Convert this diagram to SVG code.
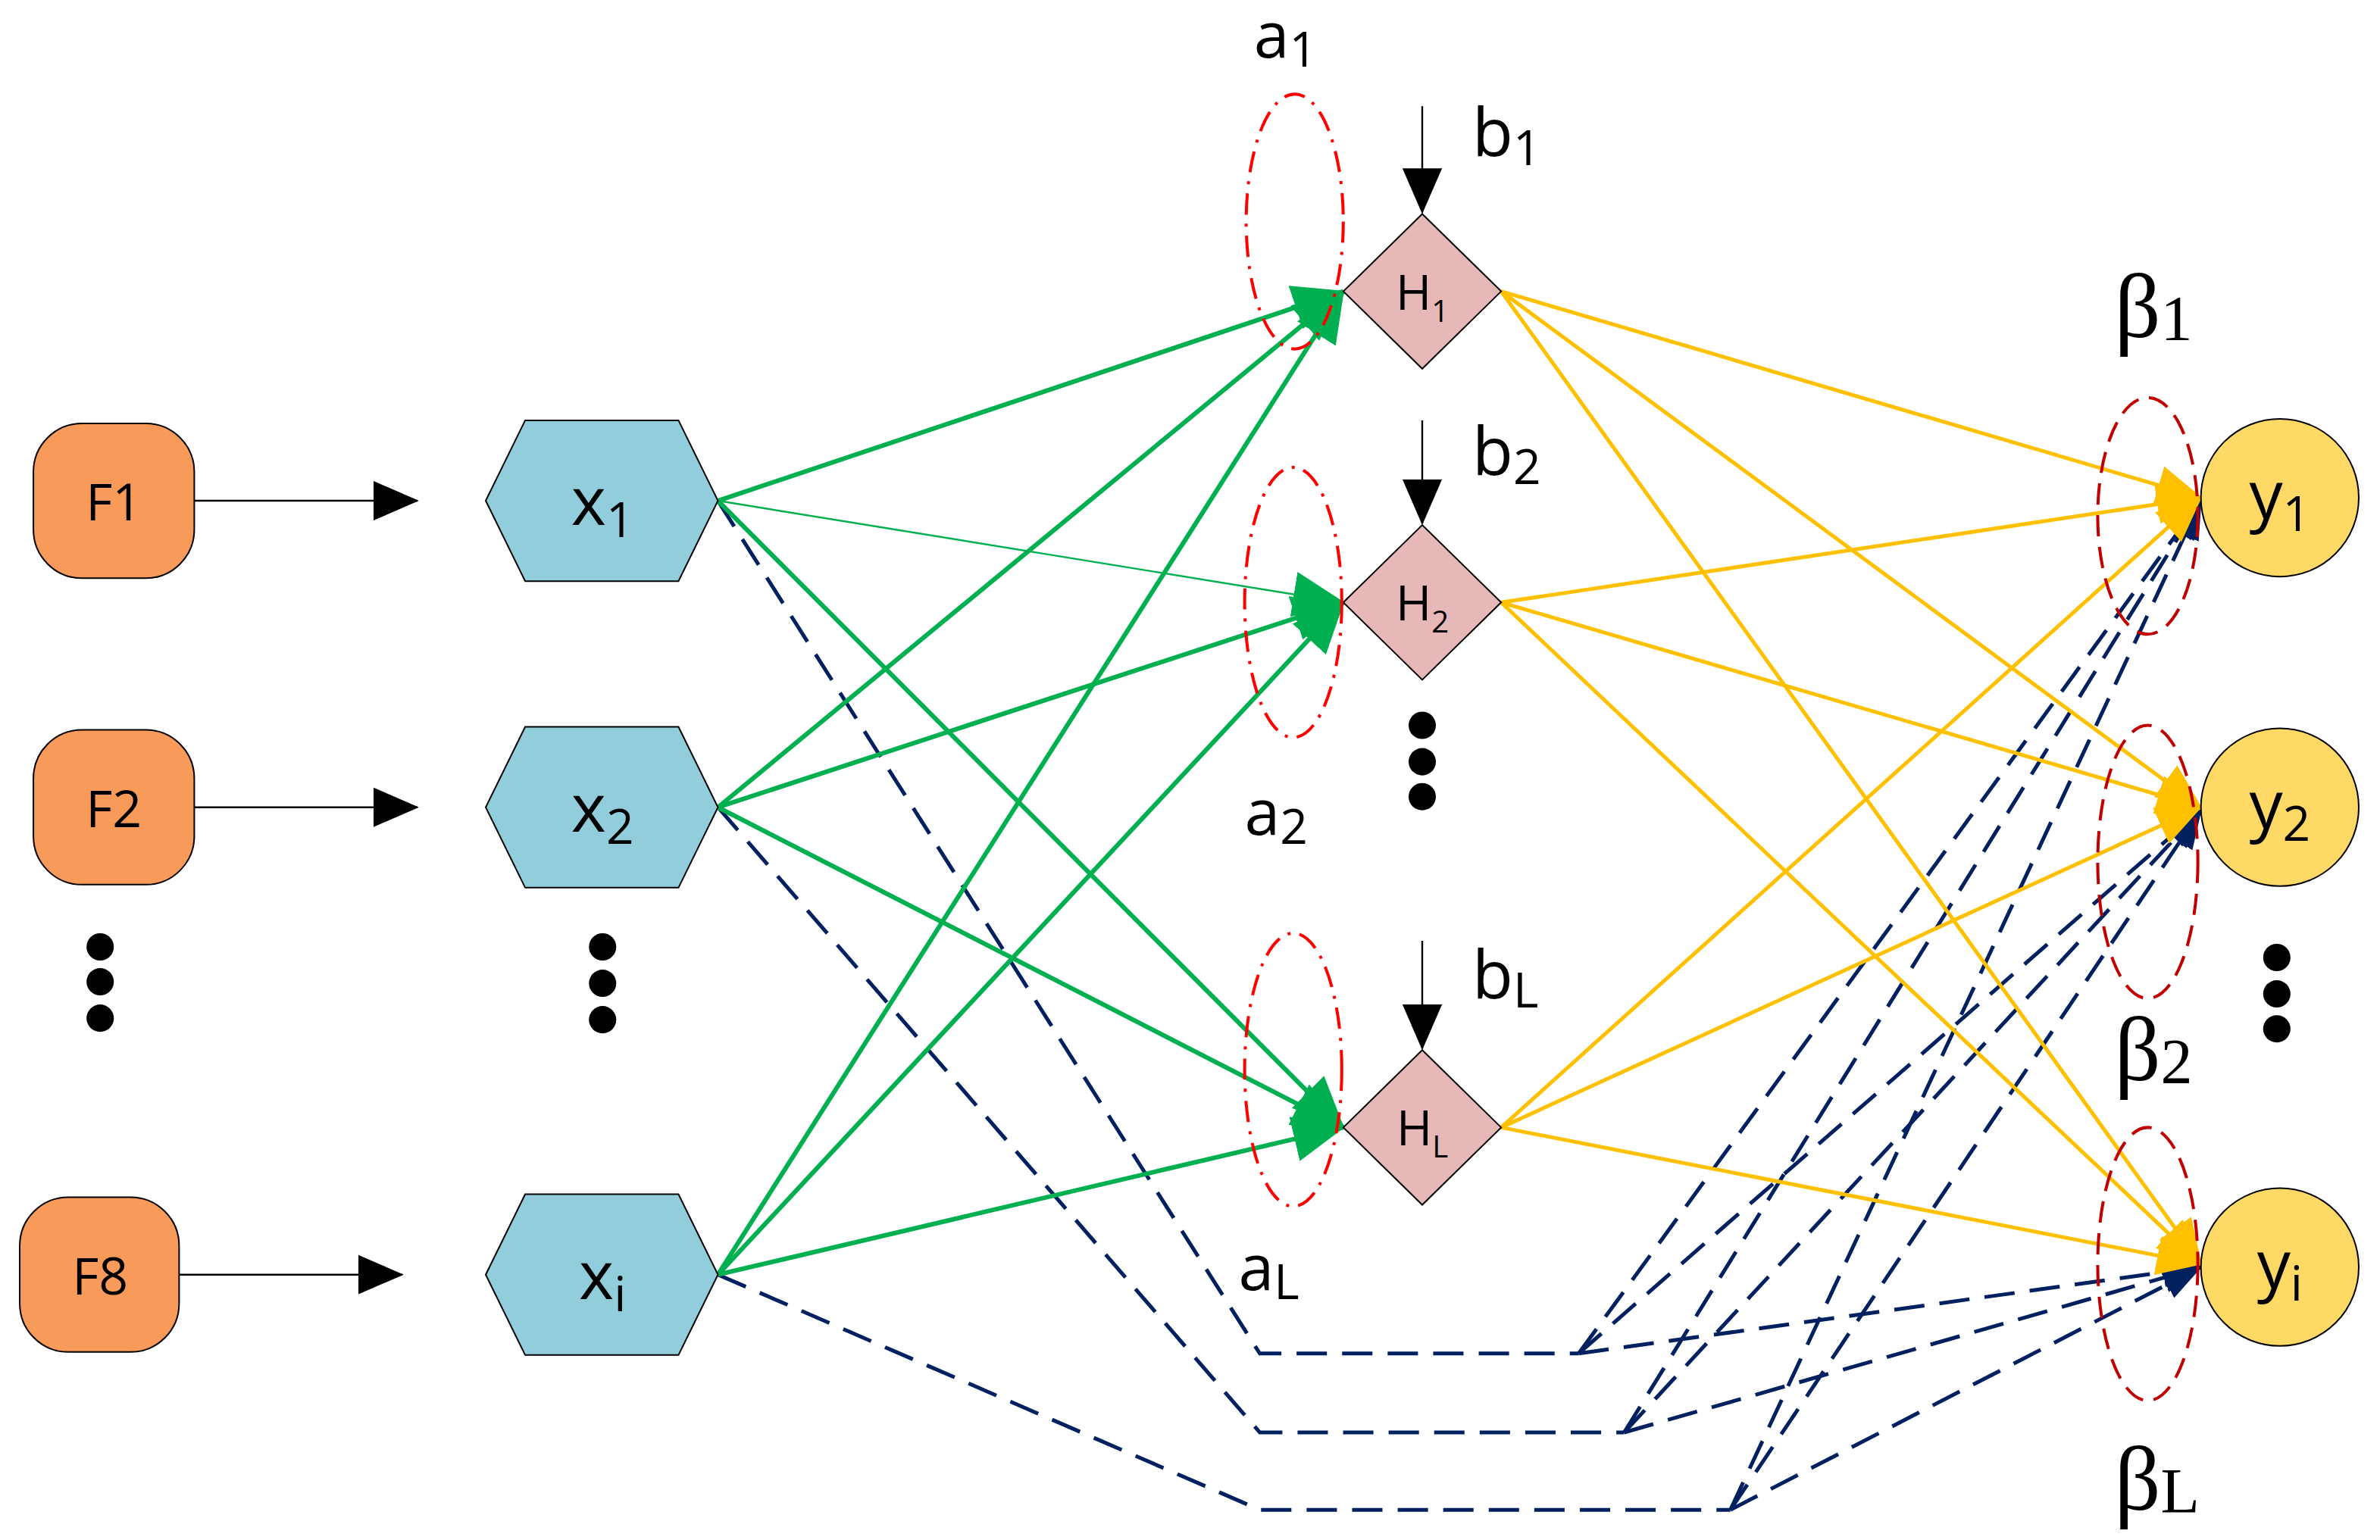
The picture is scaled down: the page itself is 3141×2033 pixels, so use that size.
<svg xmlns="http://www.w3.org/2000/svg" width="3141" height="2033" viewBox="0 0 3141 2033">
<defs>
<style>
.f{fill:#F79A5A;stroke:#000;stroke-width:1}
.hx{fill:#92CDDC;stroke:#000;stroke-width:1}
.dm{fill:#E6B9B8;stroke:#000;stroke-width:1}
.yc{fill:#FFD966;stroke:#000;stroke-width:1}
.t{font-family:"Open Sans","Liberation Sans",sans-serif;fill:#000}
.s{font-family:"Liberation Serif",serif;fill:#000}
.g{stroke:#00B050;stroke-width:3;fill:none}
.gt{stroke:#00B050;stroke-width:1.2;fill:none}
.o{stroke:#FFC000;stroke-width:2.5;fill:none}
.n{stroke:#002060;stroke-width:2.5;fill:none;stroke-dasharray:20 10}
.ea{fill:none;stroke:#FF0000;stroke-width:2;stroke-dasharray:14 6 2 6}
.eb{fill:none;stroke:#C00000;stroke-width:2;stroke-dasharray:14 7}
</style>
<marker id="ag" markerWidth="34" markerHeight="30" refX="33" refY="15" orient="auto" markerUnits="userSpaceOnUse" viewBox="0 0 34 30"><path d="M0,0 L34,15 L0,30 z" fill="#00B050"/></marker>
<marker id="ao" markerWidth="30" markerHeight="26" refX="29" refY="13" orient="auto" viewBox="0 0 30 26" markerUnits="userSpaceOnUse"><path d="M0,0 L30,13 L0,26 z" fill="#FFC000"/></marker>
<marker id="an" markerWidth="26" markerHeight="20" refX="25" refY="10" orient="auto" viewBox="0 0 26 20" markerUnits="userSpaceOnUse"><path d="M0,0 L26,10 L0,20 z" fill="#002060"/></marker>
<marker id="ak" markerWidth="30" markerHeight="26" refX="29" refY="13" orient="auto" viewBox="0 0 30 26" markerUnits="userSpaceOnUse"><path d="M0,0 L30,13 L0,26 z" fill="#000"/></marker>
</defs>
<g transform="scale(2.0032)">
<g id="connectors">
<line x1="128" y1="330" x2="275" y2="330" stroke="#000" stroke-width="1.2" marker-end="url(#ak)"/>
<line x1="128" y1="532" x2="275" y2="532" stroke="#000" stroke-width="1.2" marker-end="url(#ak)"/>
<line x1="118" y1="840" x2="265" y2="840" stroke="#000" stroke-width="1.2" marker-end="url(#ak)"/>
<line x1="937" y1="70" x2="937" y2="140" stroke="#000" stroke-width="1.2" marker-end="url(#ak)"/>
<line x1="937" y1="277" x2="937" y2="345" stroke="#000" stroke-width="1.2" marker-end="url(#ak)"/>
<line x1="937" y1="620" x2="937" y2="691" stroke="#000" stroke-width="1.2" marker-end="url(#ak)"/>
<g>
<path class="n" d="M473,330 L830,892 L1040,892"/>
<path class="n" d="M473,532 L830,944 L1070,944"/>
<path class="n" d="M473,840 L830,995 L1140,995"/>
<line class="n" x1="1040" y1="892" x2="1450" y2="330" marker-end="url(#an)"/>
<line class="n" x1="1040" y1="892" x2="1450" y2="534" marker-end="url(#an)"/>
<line class="n" x1="1040" y1="892" x2="1450" y2="835" marker-end="url(#an)"/>
<line class="n" x1="1070" y1="944" x2="1450" y2="330" marker-end="url(#an)"/>
<line class="n" x1="1070" y1="944" x2="1450" y2="534" marker-end="url(#an)"/>
<line class="n" x1="1070" y1="944" x2="1450" y2="835" marker-end="url(#an)"/>
<line class="n" x1="1140" y1="995" x2="1450" y2="330" marker-end="url(#an)"/>
<line class="n" x1="1140" y1="995" x2="1450" y2="534" marker-end="url(#an)"/>
<line class="n" x1="1140" y1="995" x2="1450" y2="835" marker-end="url(#an)"/>
</g>
<g>
<line class="g" x1="473" y1="330" x2="885" y2="192" marker-end="url(#ag)"/>
<line class="gt" x1="473" y1="330" x2="885" y2="397" marker-end="url(#ag)"/>
<line class="g" x1="473" y1="330" x2="885" y2="743" marker-end="url(#ag)"/>
<line class="g" x1="473" y1="532" x2="885" y2="192" marker-end="url(#ag)"/>
<line class="g" x1="473" y1="532" x2="885" y2="397" marker-end="url(#ag)"/>
<line class="g" x1="473" y1="532" x2="885" y2="743" marker-end="url(#ag)"/>
<line class="g" x1="473" y1="840" x2="885" y2="192" marker-end="url(#ag)"/>
<line class="g" x1="473" y1="840" x2="885" y2="397" marker-end="url(#ag)"/>
<line class="g" x1="473" y1="840" x2="885" y2="743" marker-end="url(#ag)"/>
</g>
<g>
<line class="o" x1="989" y1="192" x2="1450" y2="328" marker-end="url(#ao)"/>
<line class="o" x1="989" y1="192" x2="1450" y2="532" marker-end="url(#ao)"/>
<line class="o" x1="989" y1="192" x2="1450" y2="833" marker-end="url(#ao)"/>
<line class="o" x1="989" y1="397" x2="1450" y2="328" marker-end="url(#ao)"/>
<line class="o" x1="989" y1="397" x2="1450" y2="532" marker-end="url(#ao)"/>
<line class="o" x1="989" y1="397" x2="1450" y2="833" marker-end="url(#ao)"/>
<line class="o" x1="989" y1="743" x2="1450" y2="328" marker-end="url(#ao)"/>
<line class="o" x1="989" y1="743" x2="1450" y2="532" marker-end="url(#ao)"/>
<line class="o" x1="989" y1="743" x2="1450" y2="833" marker-end="url(#ao)"/>
</g>
</g>
<g id="F1"><rect class="f" x="22" y="279" width="106" height="102" rx="32"/><text class="t" x="75" y="343" font-size="34" text-anchor="middle">F1</text></g>
<g id="F2"><rect class="f" x="22" y="481" width="106" height="102" rx="32"/><text class="t" x="75" y="545" font-size="34" text-anchor="middle">F2</text></g>
<g id="F8"><rect class="f" x="13" y="789" width="105" height="102" rx="32"/><text class="t" x="66" y="853" font-size="34" text-anchor="middle">F8</text></g>
<g id="dots" fill="#000">
<circle cx="66" cy="624" r="9"/><circle cx="66" cy="647" r="9"/><circle cx="66" cy="671" r="9"/>
<circle cx="397" cy="624" r="9"/><circle cx="397" cy="648" r="9"/><circle cx="397" cy="672" r="9"/>
<circle cx="937" cy="478" r="9"/><circle cx="937" cy="502" r="9"/><circle cx="937" cy="525" r="9"/>
<circle cx="1500" cy="631" r="9"/><circle cx="1500" cy="655" r="9"/><circle cx="1500" cy="678" r="9"/>
</g>
<g id="x1"><polygon class="hx" points="320,330 346,277 447,277 473,330 447,383 346,383"/><text class="t" x="397" y="346" font-size="44" text-anchor="middle">x<tspan font-size="32" dy="8">1</tspan></text></g>
<g id="x2"><polygon class="hx" points="320,532 346,479 447,479 473,532 447,585 346,585"/><text class="t" x="397" y="548" font-size="44" text-anchor="middle">x<tspan font-size="32" dy="8">2</tspan></text></g>
<g id="xi"><polygon class="hx" points="320,840 346,787 447,787 473,840 447,893 346,893"/><text class="t" x="397" y="856" font-size="44" text-anchor="middle">x<tspan font-size="32" dy="8">i</tspan></text></g>
<g id="H1"><polygon class="dm" points="885,192 937,141 989,192 937,243"/><text class="t" x="937" y="204" font-size="32" text-anchor="middle">H<tspan font-size="20" dy="8">1</tspan></text></g>
<g id="H2"><polygon class="dm" points="885,397 937,346 989,397 937,448"/><text class="t" x="937" y="409" font-size="32" text-anchor="middle">H<tspan font-size="20" dy="8">2</tspan></text></g>
<g id="HL"><polygon class="dm" points="885,743 937,692 989,743 937,794"/><text class="t" x="937" y="755" font-size="32" text-anchor="middle">H<tspan font-size="20" dy="8">L</tspan></text></g>
<g id="y1"><circle class="yc" cx="1502" cy="328" r="52"/><text class="t" x="1502" y="342" font-size="44" text-anchor="middle">y<tspan font-size="32" dy="8">1</tspan></text></g>
<g id="y2"><circle class="yc" cx="1502" cy="532" r="52"/><text class="t" x="1502" y="546" font-size="44" text-anchor="middle">y<tspan font-size="32" dy="8">2</tspan></text></g>
<g id="yi"><circle class="yc" cx="1502" cy="835" r="52"/><text class="t" x="1502" y="849" font-size="44" text-anchor="middle">y<tspan font-size="32" dy="8">i</tspan></text></g>
<g id="a-groups">
<ellipse class="ea" cx="853" cy="146" rx="32" ry="84"/>
<ellipse class="ea" cx="852" cy="397" rx="32" ry="89"/>
<ellipse class="ea" cx="852" cy="705" rx="32" ry="90"/>
<text class="t" x="826" y="38" font-size="42">a<tspan font-size="32" dy="6">1</tspan></text>
<text class="t" x="820" y="550" font-size="42">a<tspan font-size="32" dy="6">2</tspan></text>
<text class="t" x="816" y="850" font-size="42">a<tspan font-size="32" dy="6">L</tspan></text>
<text class="t" x="970" y="103" font-size="44">b<tspan font-size="32" dy="6">1</tspan></text>
<text class="t" x="970" y="313" font-size="44">b<tspan font-size="32" dy="6">2</tspan></text>
<text class="t" x="970" y="658" font-size="44">b<tspan font-size="32" dy="6">L</tspan></text>
</g>
<g id="beta-groups">
<ellipse class="eb" cx="1415" cy="340" rx="33" ry="78"/>
<ellipse class="eb" cx="1415" cy="568" rx="33" ry="90"/>
<ellipse class="eb" cx="1415" cy="833" rx="33" ry="90"/>
<text class="s" x="1393" y="222" font-size="60">β<tspan font-size="42" dy="2">1</tspan></text>
<text class="s" x="1393" y="712" font-size="60">β<tspan font-size="42" dy="2">2</tspan></text>
<text class="s" x="1393" y="995" font-size="60">β<tspan font-size="42" dy="2">L</tspan></text>
</g>
</g>
</svg>
